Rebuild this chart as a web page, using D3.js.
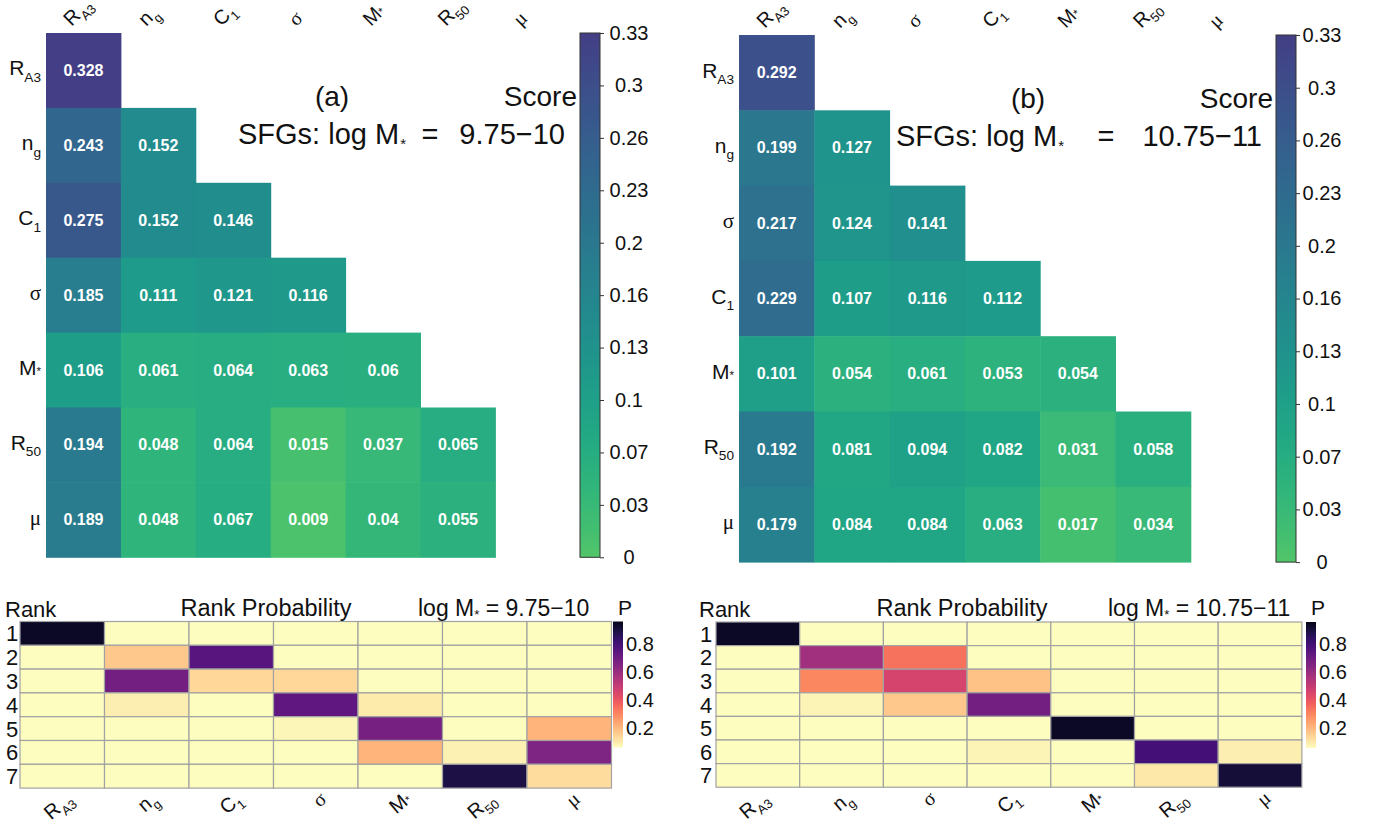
<!DOCTYPE html>
<html><head><meta charset="utf-8">
<script src="https://cdn.jsdelivr.net/npm/d3@7"></script>
<style>
body{margin:0;background:#fff;}
svg{display:block;font-family:"Liberation Sans",Arial,Helvetica,sans-serif;}
</style></head><body>
<svg id="c" width="1375" height="824"></svg>
<script>
// ---------- data ----------
const varsA = ["R_A3","n_g","C_1","σ","M_*","R_50","μ"];
const varsB = ["R_A3","n_g","σ","C_1","M_*","R_50","μ"];
const scoresA = [
  [0.328],
  [0.243,0.152],
  [0.275,0.152,0.146],
  [0.185,0.111,0.121,0.116],
  [0.106,0.061,0.064,0.063,0.060],
  [0.194,0.048,0.064,0.015,0.037,0.065],
  [0.189,0.048,0.067,0.009,0.040,0.055]
];
const scoresB = [
  [0.292],
  [0.199,0.127],
  [0.217,0.124,0.141],
  [0.229,0.107,0.116,0.112],
  [0.101,0.054,0.061,0.053,0.054],
  [0.192,0.081,0.094,0.082,0.031,0.058],
  [0.179,0.084,0.084,0.063,0.017,0.034]
];
const scoreTicks = [0,0.033,0.066,0.099,0.132,0.165,0.198,0.231,0.264,0.297,0.33];
const scoreTickLabels = ["0","0.03","0.07","0.1","0.13","0.16","0.2","0.23","0.26","0.3","0.33"];
const ranks = ["1","2","3","4","5","6","7"];
const probA = [
  [0.94,0,0,0,0,0,0],
  [0,0.17,0.75,0,0,0,0],
  [0,0.69,0.14,0.14,0,0,0],
  [0,0.093,0,0.73,0.10,0,0],
  [0,0,0,0.074,0.68,0,0.21],
  [0,0,0,0,0.21,0.088,0.66],
  [0,0,0,0,0,0.89,0.13]
];
const probB = [
  [0.94,0,0,0,0,0,0],
  [0,0.58,0.34,0,0,0,0],
  [0,0.30,0.46,0.18,0,0,0],
  [0,0.08,0.17,0.69,0,0,0],
  [0,0,0,0,0.94,0,0],
  [0,0,0,0.08,0,0.80,0.093],
  [0,0,0,0,0,0.107,0.91]
];
const probTicks = [0.2,0.4,0.6,0.8];
const probRange = [0.06,0.96];
const titlesA = {tag:"(a)", mass:"9.75−10"};
const titlesB = {tag:"(b)", mass:"10.75−11"};

// ---------- helpers ----------
const svg = d3.select("#c");
const serifGlyphs = new Set(["σ","μ"]);
function writeLabel(text, name, size) {
  const [m, s] = name.split("_");
  const main = text.append("tspan").text(m);
  if (serifGlyphs.has(m)) main.attr("font-family","'Liberation Serif','DejaVu Serif',serif");
  if (s === "*") {
    text.append("tspan").text("*").attr("font-size", size*0.55);
  } else if (s) {
    text.append("tspan").text(s).attr("font-size", size*0.65).attr("dy", size*0.3);
  }
}
function rotMatrix(deg, tx, ty) {
  const a = deg*Math.PI/180, c = Math.cos(a), s = Math.sin(a);
  return `matrix(${c.toFixed(5)},${s.toFixed(5)},${(-s).toFixed(5)},${c.toFixed(5)},${tx.toFixed(2)},${ty.toFixed(2)})`;
}
const scoreT = d3.scaleLinear().domain([0,0.33]).range([0.73,0.18]);
const scoreColor = v => d3.interpolateViridis(scoreT(v));
const probT = d3.scaleLinear().domain(probRange).range([1,0.05]).clamp(true);
const probColor = v => d3.interpolateMagma(probT(v));
const fmt = d3.format(".3~f");

// gradients
const defs = svg.append("defs");
const gS = defs.append("linearGradient").attr("id","gScore").attr("x1",0).attr("x2",0).attr("y1",1).attr("y2",0);
d3.range(0,1.0001,0.05).forEach(t=>gS.append("stop").attr("offset",t).attr("stop-color",scoreColor(t*0.33)));
const gP = defs.append("linearGradient").attr("id","gProb").attr("x1",0).attr("x2",0).attr("y1",1).attr("y2",0);
d3.range(0,1.0001,0.05).forEach(t=>gP.append("stop").attr("offset",t).attr("stop-color",probColor(probRange[0]+t*(probRange[1]-probRange[0]))));

// ---------- score heatmap ----------
function scorePanel(cfg) {
  const {vars, scores, x0, y0, cell, cbX, cbW, cbLabelX, titles, tagX, scoreRight, sfgX, eqX, numRight} = cfg;
  const g = svg.append("g");
  const x = d3.scaleBand().domain(vars).range([x0, x0 + cell*vars.length]);
  const y = d3.scaleBand().domain(vars).range([y0, y0 + cell*vars.length]);
  const cells = [];
  scores.forEach((row,i)=>row.forEach((v,j)=>cells.push({r:vars[i], c:vars[j], v})));
  g.selectAll("rect.cell").data(cells).join("rect")
    .attr("x",d=>x(d.c)).attr("y",d=>y(d.r))
    .attr("width",x.bandwidth()+0.5).attr("height",y.bandwidth()+0.5)
    .attr("fill",d=>scoreColor(d.v));
  g.selectAll("text.val").data(cells).join("text")
    .attr("x",d=>x(d.c)+x.bandwidth()/2).attr("y",d=>y(d.r)+y.bandwidth()/2+5.5)
    .attr("text-anchor","middle")
    .attr("fill","#fff").attr("font-weight","bold").attr("font-size",16)
    .text(d=>fmt(d.v));
  // row labels
  vars.forEach(v=>{
    const t = g.append("text").attr("x",x0-5).attr("y",y(v)+y.bandwidth()/2+5)
      .attr("text-anchor","end").attr("font-size",21).attr("fill","#111");
    writeLabel(t, v, 21);
  });
  // column labels (rotated 45°)
  vars.forEach(v=>{
    const cx = x(v)+x.bandwidth()/2;
    const t = g.append("text").attr("transform", rotMatrix(-45, cx-12, y0-6))
      .attr("text-anchor","start").attr("font-size",20).attr("fill","#111");
    writeLabel(t, v, 20);
  });
  // colorbar
  const h = cell*vars.length;
  const cy = d3.scaleLinear().domain([0,0.33]).range([y0+h, y0]);
  g.append("rect").attr("x",cbX).attr("y",y0).attr("width",cbW).attr("height",h)
    .attr("fill","url(#gScore)").attr("stroke","#333").attr("stroke-width",1);
  const ax = d3.axisRight(cy).tickValues(scoreTicks).tickSize(4)
    .tickFormat((d,i)=>scoreTickLabels[i]);
  const axG = g.append("g").attr("transform",`translate(${cbX+cbW},0)`).call(ax);
  axG.select(".domain").remove();
  axG.selectAll(".tick line").attr("stroke","#333");
  axG.selectAll(".tick text").attr("x",cbLabelX-(cbX+cbW)).attr("text-anchor","middle")
    .attr("font-size",20).attr("fill","#111").attr("font-family","'Liberation Sans',Arial,sans-serif");
  // titles
  g.append("text").attr("x",tagX).attr("y",y0+73).attr("text-anchor","middle")
    .attr("font-size",28).attr("fill","#111").text(titles.tag);
  g.append("text").attr("x",scoreRight).attr("y",y0+73).attr("text-anchor","end")
    .attr("font-size",28).attr("fill","#111").text("Score");
  const s = g.append("text").attr("x",sfgX).attr("y",y0+111).attr("font-size",29).attr("fill","#111");
  s.append("tspan").text("SFGs: log M");
  s.append("tspan").text("*").attr("font-size",15).attr("dy",5).attr("dx",1);
  g.append("text").attr("x",eqX).attr("y",y0+111).attr("text-anchor","middle")
    .attr("font-size",29).attr("fill","#111").text("=");
  g.append("text").attr("x",numRight).attr("y",y0+111).attr("text-anchor","end")
    .attr("font-size",29).attr("fill","#111").text(titles.mass);
}

// ---------- rank probability heatmap ----------
function rankPanel(cfg) {
  const {vars, prob, x0, y0, w, h, cbX, titles, rankX, titleX, massX} = cfg;
  const g = svg.append("g");
  const x = d3.scaleBand().domain(vars).range([x0, x0 + w*vars.length]);
  const y = d3.scaleBand().domain(ranks).range([y0, y0 + h*ranks.length]);
  const cells = [];
  prob.forEach((row,i)=>row.forEach((v,j)=>cells.push({r:ranks[i], c:vars[j], v})));
  g.selectAll("rect").data(cells).join("rect")
    .attr("x",d=>x(d.c)).attr("y",d=>y(d.r))
    .attr("width",x.bandwidth()).attr("height",y.bandwidth())
    .attr("fill",d=>probColor(d.v)).attr("stroke","#a2a2a2").attr("stroke-width",1.2);
  ranks.forEach(r=>{
    g.append("text").attr("x",rankX).attr("y",y(r)+y.bandwidth()/2+8)
      .attr("text-anchor","middle").attr("font-size",22).attr("fill","#111").text(r);
  });
  vars.forEach(v=>{
    const cx = x(v)+x.bandwidth()/2;
    const t = g.append("text").attr("transform", rotMatrix(-40, cx+12, y0+h*7+13))
      .attr("text-anchor","end").attr("font-size",20).attr("fill","#111");
    writeLabel(t, v, 20);
  });
  // colorbar
  const cbTop = y0, cbBot = y0+126;
  const cy = d3.scaleLinear().domain(probRange).range([cbBot, cbTop]);
  g.append("rect").attr("x",cbX).attr("y",cbTop).attr("width",10).attr("height",cbBot-cbTop)
    .attr("fill","url(#gProb)");
  const axG = g.append("g").attr("transform",`translate(${cbX+10},0)`)
    .call(d3.axisRight(cy).tickValues(probTicks).tickSize(0).tickPadding(3).tickFormat(d3.format(".1f")));
  axG.select(".domain").remove();
  axG.selectAll(".tick text").attr("font-size",20).attr("fill","#111")
    .attr("font-family","'Liberation Sans',Arial,sans-serif");
  g.append("text").attr("x",cbX+5).attr("y",y0-7).attr("font-size",21).attr("fill","#111").text("P");
  g.append("text").attr("x",rankX-7).attr("y",y0-5).attr("font-size",22).attr("fill","#111").text("Rank");
  g.append("text").attr("x",titleX).attr("y",y0-6).attr("text-anchor","middle")
    .attr("font-size",23.5).attr("fill","#111").text("Rank Probability");
  const m = g.append("text").attr("x",massX).attr("y",y0-6).attr("font-size",23).attr("fill","#111");
  m.append("tspan").text("log M");
  m.append("tspan").text("*").attr("font-size",13).attr("dy",3);
  m.append("tspan").text(" = " + titles.mass).attr("dy",-3);
}

scorePanel({vars:varsA, scores:scoresA, x0:46, y0:33, cell:74.9, cbX:580, cbW:20, cbLabelX:629,
  titles:titlesA, tagX:332, scoreRight:577, sfgX:238, eqX:430, numRight:565});
scorePanel({vars:varsB, scores:scoresB, x0:739, y0:35, cell:75.3, cbX:1276, cbW:20, cbLabelX:1322,
  titles:titlesB, tagX:1028, scoreRight:1273, sfgX:896, eqX:1106, numRight:1262});
rankPanel({vars:varsA, prob:probA, x0:20, y0:621.5, w:84.5, h:23.8, cbX:613, titles:titlesA,
  rankX:12, titleX:266, massX:418});
rankPanel({vars:varsB, prob:probB, x0:716, y0:622, w:83.7, h:23.6, cbX:1306, titles:titlesB,
  rankX:706, titleX:962, massX:1108});
</script></body></html>
